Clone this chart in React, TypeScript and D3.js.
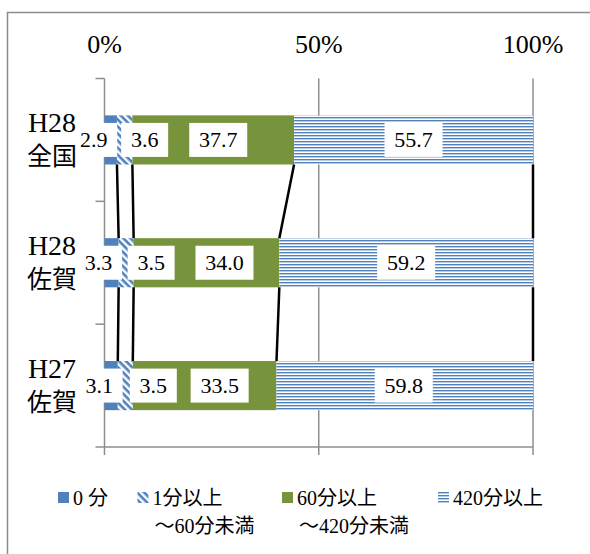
import React from "react";
import * as d3 from "d3";

// categories, top to bottom
const catYear = ["H28", "H28", "H27"];
const catArea = ["全国", "佐賀", "佐賀"];

// series (percent)
const seriesKeys = ["s0", "s1", "s2", "s3"];
const seriesNames = ["0 分", "1分以上\n～60分未満", "60分以上\n～420分未満", "420分以上"];
const zeroMin = [2.9, 3.3, 3.1];
const oneTo60 = [3.6, 3.5, 3.5];
const sixtyTo420 = [37.7, 34.0, 33.5];
const over420 = [55.7, 59.2, 59.8];

const tickValues = [0, 0.5, 1];

// manual label nudges (px), like the moved labels in the original sheet
const labelNudge = [
  [-17, 20, 5, 0],
  [-13, 25, 18, 0],
  [-12, 28, 15, -1],
];

const W = 590;
const H = 554;
const plotTop = 78.5;
const plotBottom = 447;
const plotLeft = 104.5;
const plotRight = 533;

const serif = "'Liberation Serif', 'Noto Sans CJK JP', serif";
const cjk = "'Noto Sans CJK JP', sans-serif";
const blue = "#4f81bd";
const green = "#77933c";
const gridColor = "#8e8e8e";

const App: React.FC = () => {
  const cats = catYear.map((y, i) => y + catArea[i] + i);
  const rows = cats.map((c, i) => ({
    cat: c,
    s0: zeroMin[i],
    s1: oneTo60[i],
    s2: sixtyTo420[i],
    s3: over420[i],
  }));
  const stacked = d3.stack<any>().keys(seriesKeys).offset(d3.stackOffsetExpand)(rows);

  const x = d3.scaleLinear().domain([0, 1]).range([plotLeft, plotRight]);
  const y = d3
    .scaleBand()
    .domain(cats)
    .range([plotTop, plotBottom])
    .paddingInner(0.6)
    .paddingOuter(0.3);
  const yTicks = d3.scaleBand().domain(cats).range([plotTop, plotBottom]);
  const tickYs = [...cats.map((c) => yTicks(c) as number), plotBottom];
  const fmt = d3.format(".0%");
  const bw = y.bandwidth();

  const fills = [blue, "url(#hatch)", green, "url(#hstripe)"];

  // legend layout
  const legendX = [58, 137.5, 282, 438];
  const legendY = 492;

  return (
    <svg
      width={W}
      height={H}
      style={{ position: "absolute", left: 0, top: 0, background: "#fff" }}
    >
      <defs>
        <pattern
          id="hatch"
          patternUnits="userSpaceOnUse"
          width={5}
          height={5}
          patternTransform="rotate(45)"
        >
          <rect width={5} height={5} fill="#fff" />
          <rect width={5} height={2.6} fill={blue} />
        </pattern>
        <pattern id="hstripe" patternUnits="userSpaceOnUse" width={4} height={3}>
          <rect width={4} height={3} fill="#fff" />
          <rect width={4} height={1.4} fill={blue} />
        </pattern>
      </defs>

      {/* outer frame */}
      <rect x={7.5} y={12.5} width={640} height={640} fill="none" stroke="#8c8c8c" strokeWidth={1.5} />

      {/* gridlines + ticks */}
      {tickValues.slice(1).map((t) => (
        <line key={t} x1={x(t)} x2={x(t)} y1={plotTop} y2={plotBottom + 8} stroke={gridColor} strokeWidth={1.5} />
      ))}
      <line x1={plotLeft} x2={plotLeft} y1={plotTop} y2={plotBottom + 8} stroke={gridColor} strokeWidth={1.5} />
      <line x1={plotLeft} x2={plotRight} y1={plotBottom} y2={plotBottom} stroke={gridColor} strokeWidth={1.5} />
      {tickYs.map((ty, i) => (
        <line key={i} x1={plotLeft - 9} x2={plotLeft} y1={ty} y2={ty} stroke={gridColor} strokeWidth={1.5} />
      ))}

      {tickValues.map((t) => (
        <text key={t} x={x(t)} y={53} textAnchor="middle" fontFamily={serif} fontSize={26} fill="#000">
          {fmt(t)}
        </text>
      ))}

      {/* bars */}
      {stacked.map((s, si) => (
        <g key={s.key}>
          {s.map((d, ri) => (
            <rect
              key={ri}
              x={x(d[0])}
              y={y(d.data.cat) as number}
              width={x(d[1]) - x(d[0])}
              height={bw}
              fill={fills[si]}
            />
          ))}
        </g>
      ))}

      {/* series lines */}
      {stacked.map((s) =>
        s.slice(0, -1).map((d, ri) => {
          const nx = s[ri + 1];
          return (
            <line
              key={s.key + ri}
              x1={x(d[1])}
              y1={(y(d.data.cat) as number) + bw}
              x2={x(nx[1])}
              y2={y(nx.data.cat) as number}
              stroke="#000"
              strokeWidth={2.5}
            />
          );
        })
      )}

      {/* data labels */}
      {stacked.map((s, si) =>
        s.map((d, ri) => {
          const txt = (d.data as any)[s.key].toFixed(1);
          const cx = (x(d[0]) + x(d[1])) / 2 + labelNudge[ri][si];
          const cy = (y(d.data.cat) as number) + bw / 2;
          const bwid = 11 * txt.length + 14;
          return (
            <g key={s.key + "l" + ri}>
              <rect x={cx - bwid / 2} y={cy - 17} width={bwid} height={34} fill="#fff" />
              <text x={cx} y={cy + 7.5} textAnchor="middle" fontFamily={serif} fontSize={22} fill="#000">
                {txt}
              </text>
            </g>
          );
        })
      )}

      {/* category labels */}
      {cats.map((c, i) => {
        const cy = (y(c) as number) + bw / 2;
        return (
          <g key={c}>
            <text x={52} y={cy - 7.5} textAnchor="middle" fontFamily={serif} fontSize={28} fill="#000">
              {catYear[i]}
            </text>
            <text x={52} y={cy + 25} textAnchor="middle" fontFamily={cjk} fontSize={25} fill="#000">
              {catArea[i]}
            </text>
          </g>
        );
      })}

      {/* legend */}
      {seriesNames.map((name, i) => {
        const lines = name.split("\n");
        return (
          <g key={name}>
            <rect x={legendX[i]} y={legendY} width={11} height={11} fill={fills[i]} />
            {lines.map((ln, li) => (
              <text
                key={li}
                x={legendX[i] + 15 + (li > 0 ? 2 : 0)}
                y={legendY + 13 + li * 28}
                fontFamily={serif}
                fontSize={20}
                fill="#000"
              >
                {ln}
              </text>
            ))}
          </g>
        );
      })}
    </svg>
  );
};

export default App;
